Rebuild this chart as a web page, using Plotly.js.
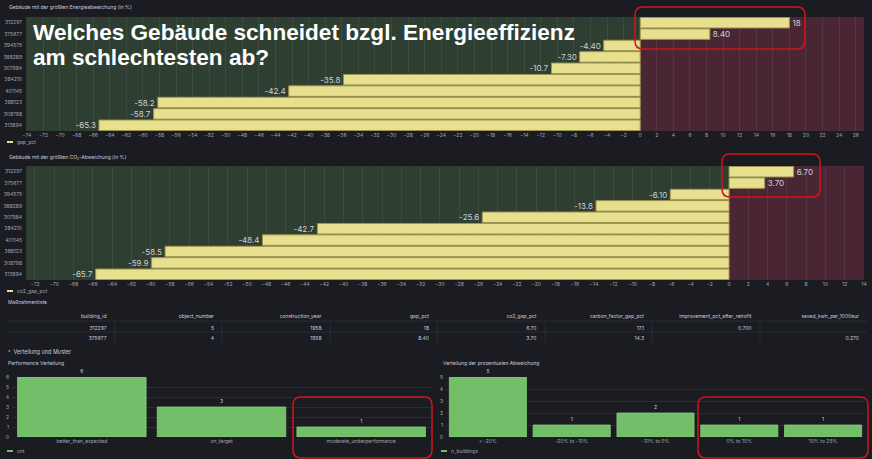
<!DOCTYPE html>
<html>
<head>
<meta charset="utf-8">
<script src="https://cdn.plot.ly/plotly-3.0.1.min.js"></script>
<style>html,body{margin:0;padding:0;background:#1a1c22;}#chart{width:872px;height:459px;}</style>
</head>
<body>
<div id="chart"></div>
<script>
// ---- data ----
const buildings = ['312297','375677','394575','388289','307984','384210','401145','388123','308798','313894'];
const gapPct = [18, 8.4, -4.4, -7.3, -10.7, -35.8, -42.4, -58.2, -58.7, -65.3];
const co2GapPct = [6.7, 3.7, -6.1, -13.8, -25.6, -42.7, -48.4, -58.5, -59.9, -65.7];

const tableHeaders = ['building_id','object_number','construction_year','gap_pct','co2_gap_pct','carbon_factor_gap_pct','improvement_pct_after_retrofit','saved_kwh_per_1000eur'];
const tBuildingId = ['312297','375677'];
const tObjectNumber = ['5','4'];
const tConstructionYear = ['1958','1958'];
const tGapPct = ['18','8.40'];
const tCo2GapPct = ['6.70','3.70'];
const tCarbonFactorGap = ['17.1','14.3'];
const tImprovement = ['0.700',''];
const tSavedKwh = ['','0.270'];

const perfCategories = ['better_than_expected','on_target','moderate_underperformance'];
const perfCnt = [6, 3, 1];
const distCategories = ['< -20%','-20% to -10%','-10% to 0%','0% to 10%','10% to 25%'];
const distN = [5, 1, 2, 1, 1];

// ---- helpers ----
const W = 872, H = 459;
const px = v => v / W, py = v => 1 - v / H;
const fmt = v => { const s = v.toPrecision(3); return Math.abs(v) >= 10 ? String(Number(s)) : s; };
function rr(x0, y0, x1, y1, r) {
  const X = v => (v / W).toFixed(5), Y = v => (1 - v / H).toFixed(5);
  return `M${X(x0+r)},${Y(y0)} L${X(x1-r)},${Y(y0)} Q${X(x1)},${Y(y0)} ${X(x1)},${Y(y0+r)} ` +
         `L${X(x1)},${Y(y1-r)} Q${X(x1)},${Y(y1)} ${X(x1-r)},${Y(y1)} L${X(x0+r)},${Y(y1)} ` +
         `Q${X(x0)},${Y(y1)} ${X(x0)},${Y(y1-r)} L${X(x0)},${Y(y0+r)} Q${X(x0)},${Y(y0)} ${X(x0+r)},${Y(y0)} Z`;
}

const TXT = '#ccccdc', TICK = '#a3a4ad', GRID = 'rgba(255,255,255,0.07)';
const YEL = '#e8e08f', YEL_LINE = '#9e9652', GRN = '#73bf69', GRN_LINE = '#86cf7c';
const F = 'Inter, "DejaVu Sans", sans-serif';
const SEP = 'rgba(204,204,220,0.13)';

const traces = [
  { type: 'bar', orientation: 'h', x: gapPct, y: buildings, xaxis: 'x', yaxis: 'y',
    text: gapPct.map(fmt), textposition: 'outside', cliponaxis: false, constraintext: 'none',
    textfont: { color: '#cfd0d8', size: 8, family: F },
    marker: { color: YEL, line: { color: YEL_LINE, width: 1 } }, showlegend: false },
  { type: 'bar', orientation: 'h', x: co2GapPct, y: buildings, xaxis: 'x2', yaxis: 'y2',
    text: co2GapPct.map(fmt), textposition: 'outside', cliponaxis: false, constraintext: 'none',
    textfont: { color: '#cfd0d8', size: 8, family: F },
    marker: { color: YEL, line: { color: YEL_LINE, width: 1 } }, showlegend: false },
  { type: 'table', domain: { x: [px(7), px(867)], y: [py(348), py(306)] },
    columnwidth: tableHeaders.map(() => 1),
    header: { values: tableHeaders, align: 'right', height: 12,
      font: { color: TXT, size: 5, family: F }, fill: { color: 'rgba(0,0,0,0)' },
      line: { color: 'rgba(0,0,0,0)', width: 0 } },
    cells: { values: [tBuildingId, tObjectNumber, tConstructionYear, tGapPct, tCo2GapPct, tCarbonFactorGap, tImprovement, tSavedKwh],
      align: 'right', height: 10, font: { color: TXT, size: 5, family: F }, fill: { color: 'rgba(0,0,0,0)' },
      line: { color: 'rgba(0,0,0,0)', width: 0 } } },
  { type: 'bar', x: perfCategories, y: perfCnt, xaxis: 'x3', yaxis: 'y3',
    text: perfCnt.map(String), textposition: 'outside', cliponaxis: false, constraintext: 'none',
    textfont: { color: TXT, size: 5, family: F },
    marker: { color: GRN, line: { color: GRN_LINE, width: 0.8 } }, showlegend: false },
  { type: 'bar', x: distCategories, y: distN, xaxis: 'x4', yaxis: 'y4',
    text: distN.map(String), textposition: 'outside', cliponaxis: false, constraintext: 'none',
    textfont: { color: TXT, size: 5, family: F },
    marker: { color: GRN, line: { color: GRN_LINE, width: 0.8 } }, showlegend: false }
];

const hx = (dom, range, dtick, tick0, anchor) => ({ domain: dom, range: range, dtick: dtick, tick0: tick0, anchor: anchor,
  showgrid: true, gridcolor: GRID, gridwidth: 1, zeroline: false, showline: false, ticks: '',
  tickfont: { size: 5, color: TICK, family: F }, fixedrange: true });
const cy = (dom, anchor) => ({ domain: dom, anchor: anchor, type: 'category', autorange: 'reversed', showgrid: false, zeroline: false,
  ticks: '', ticklabelstandoff: 3, tickfont: { size: 5, color: TICK, family: F }, fixedrange: true });
const vy = (dom, range, anchor) => ({ domain: dom, anchor: anchor, range: range, dtick: 1, showgrid: true, gridcolor: GRID,
  zeroline: false, ticks: '', ticklabelstandoff: 2, tickfont: { size: 5, color: TICK, family: F }, fixedrange: true });
const cx = (dom, anchor) => ({ domain: dom, anchor: anchor, type: 'category', showgrid: false, ticks: '', zeroline: false,
  tickfont: { size: 5, color: TICK, family: F }, fixedrange: true });

const ann = (x, y, text, size, opts) => Object.assign({ xref: 'paper', yref: 'paper', x: px(x), y: py(y),
  xanchor: 'left', yanchor: 'middle', showarrow: false, text: text,
  font: { size: size, color: TXT, family: F } }, opts || {});

const redBox = (x0, y0, x1, y1) => ({ type: 'path', xref: 'paper', yref: 'paper', path: rr(x0, y0, x1, y1, 8),
  line: { color: '#d0141c', width: 1.5 }, fillcolor: 'rgba(0,0,0,0)', layer: 'above' });
const swatch = (x, y, color) => ({ type: 'rect', xref: 'paper', yref: 'paper', x0: px(x), x1: px(x + 6),
  y0: py(y + 1), y1: py(y - 1), fillcolor: color, line: { width: 0 } });
const hline = (x0, x1, y) => ({ type: 'line', xref: 'paper', yref: 'paper', x0: px(x0), x1: px(x1), y0: py(y), y1: py(y),
  line: { color: SEP, width: 0.7 } });
const vline = (x, y0, y1) => ({ type: 'line', xref: 'paper', yref: 'paper', x0: px(x), x1: px(x), y0: py(y0), y1: py(y1),
  line: { color: SEP, width: 0.7 } });

const colEdges = [115, 222, 330, 437, 545, 652, 760];

const layout = {
  width: W, height: H, margin: { l: 0, r: 0, t: 0, b: 0 },
  paper_bgcolor: '#1a1c22', plot_bgcolor: 'rgba(0,0,0,0)',
  bargap: 0.08, showlegend: false,
  xaxis: hx([px(26), px(864)], [-74.1, 27], 2, -74, 'y'),
  yaxis: cy([py(131), py(17)], 'x'),
  xaxis2: hx([px(26), px(864)], [-72.93, 14], 2, -72, 'y2'),
  yaxis2: cy([py(280), py(166)], 'x2'),
  xaxis3: cx([px(12), px(431)], 'y3'),
  yaxis3: vy([py(437), py(377)], [0, 6], 'x3'),
  xaxis4: cx([px(446), px(865)], 'y4'),
  yaxis4: vy([py(437), py(377)], [0, 5], 'x4'),
  shapes: [
    { type: 'rect', xref: 'x', yref: 'y domain', x0: -74.1, x1: 0, y0: 0, y1: 1, fillcolor: '#2e3e30', line: { width: 0 }, layer: 'below' },
    { type: 'rect', xref: 'x', yref: 'y domain', x0: 0, x1: 27, y0: 0, y1: 1, fillcolor: '#4a2634', line: { width: 0 }, layer: 'below' },
    { type: 'rect', xref: 'x2', yref: 'y2 domain', x0: -72.93, x1: 0, y0: 0, y1: 1, fillcolor: '#2e3e30', line: { width: 0 }, layer: 'below' },
    { type: 'rect', xref: 'x2', yref: 'y2 domain', x0: 0, x1: 14, y0: 0, y1: 1, fillcolor: '#4a2634', line: { width: 0 }, layer: 'below' },
    swatch(7, 142, YEL), swatch(7, 291, YEL), swatch(7, 451, GRN), swatch(441, 451, GRN),
    hline(7, 867, 321), hline(7, 867, 332),
    ...colEdges.map(x => vline(x, 321, 343)),
    redBox(635, 7, 805, 49), redBox(722, 154, 820, 197),
    redBox(293, 397, 432, 458), redBox(698, 397, 868, 458)
  ],
  annotations: [
    ann(7, 7, 'Gebäude mit der größten Energieabweichung (in %)', 5),
    ann(15, 142, 'gap_pct', 5, { font: { size: 5, color: TICK, family: F } }),
    ann(7, 157, 'Gebäude mit der größten CO<sub>2</sub>-Abweichung (in %)', 5),
    ann(15, 291, 'co2_gap_pct', 5, { font: { size: 5, color: TICK, family: F } }),
    ann(6, 302, 'Maßnahmenliste', 5),
    ann(6, 351, '˅  Verteilung und Muster', 5.5),
    ann(6, 363, 'Performance Verteilung', 5),
    ann(441, 363, 'Verteilung der prozentualen Abweichung', 5),
    ann(15, 451, 'cnt', 5, { font: { size: 5, color: TICK, family: F } }),
    ann(449, 451, 'n_buildings', 5, { font: { size: 5, color: TICK, family: F } }),
    ann(31, 32, 'Welches Gebäude schneidet bzgl. Energieeffizienz', 22.6,
      { font: { size: 22.6, color: '#ffffff', family: '"Liberation Sans", Arial, sans-serif', weight: 'bold' } }),
    ann(31, 57, 'am schlechtesten ab?', 22.6,
      { font: { size: 22.6, color: '#ffffff', family: '"Liberation Sans", Arial, sans-serif', weight: 'bold' } })
  ]
};

Plotly.newPlot('chart', traces, layout, { displayModeBar: false, staticPlot: true });
</script>
</body>
</html>
